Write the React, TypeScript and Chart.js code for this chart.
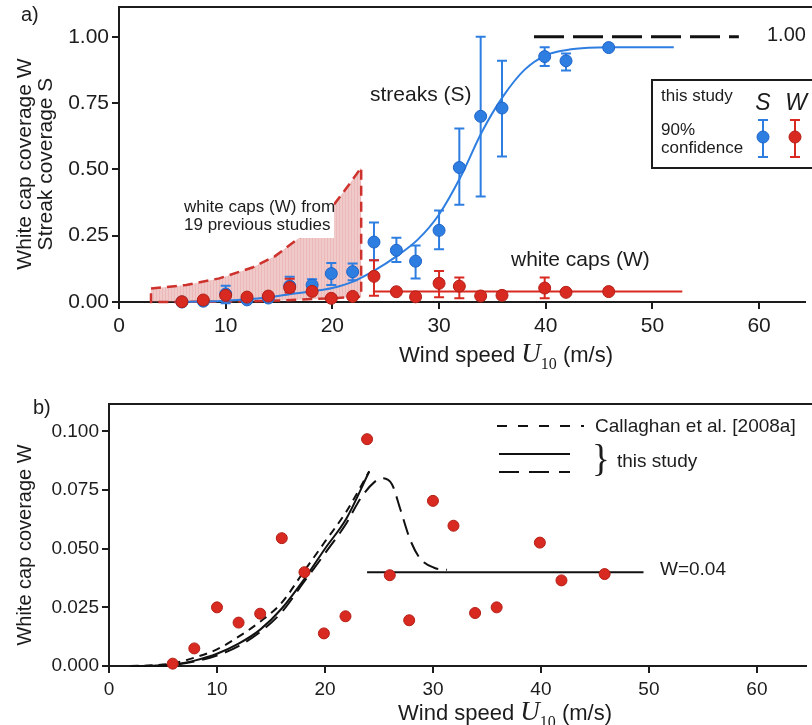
import React, { useEffect, useRef } from "react";
import { Chart, registerables } from "chart.js";
Chart.register(...registerables);

// ---------------- DATA ----------------
const xTickValues = [0, 10, 20, 30, 40, 50, 60];
const yTickValuesA = [0, 0.25, 0.5, 0.75, 1.0];
const yTickValuesB = [0, 0.025, 0.05, 0.075, 0.1];

// wind speed bins (m/s)
const windSpeeds = [5.9, 7.9, 10.0, 12.0, 14.0, 16.0, 18.1, 19.9, 21.9, 23.9, 26.0, 27.8, 30.0, 31.9, 33.9, 35.9, 39.9, 41.9, 45.9];
// white cap coverage W
const whitecapW = [0.001, 0.0075, 0.025, 0.0185, 0.0223, 0.0545, 0.04, 0.0139, 0.0212, 0.0967, 0.0387, 0.0195, 0.0704, 0.0598, 0.0226, 0.025, 0.0526, 0.0365, 0.0392];
const whitecapLow = [null, null, null, null, null, 0.035, null, null, null, 0.024, null, null, 0.018, 0.014, null, null, 0.014, null, null];
const whitecapHigh = [null, null, null, null, null, 0.088, null, null, null, 0.157, null, null, 0.117, 0.092, null, null, 0.092, null, null];
// streak coverage S
const streakS = [0.0, 0.003, 0.03, 0.008, 0.015, 0.06, 0.064, 0.107, 0.114, 0.226, 0.195, 0.154, 0.27, 0.507, 0.7, 0.731, 0.925, 0.909, 0.959];
const streakLow = [null, null, -0.005, null, null, 0.04, 0.033, 0.064, 0.082, 0.157, 0.151, 0.089, 0.199, 0.367, 0.398, 0.548, 0.89, 0.873, null];
const streakHigh = [null, null, 0.061, null, null, 0.095, 0.086, 0.147, 0.145, 0.3, 0.242, 0.213, 0.345, 0.654, 1.0, 0.909, 0.96, 0.937, null];

// streak fit curve
const streakFitU = [6, 8, 10, 12, 14, 16, 18, 20, 22, 24, 26, 28, 30, 32, 34, 36, 38, 40, 42, 44, 46, 52];
const streakFitS = [0.0, 0.002, 0.005, 0.01, 0.018, 0.029, 0.04, 0.053, 0.078, 0.12, 0.172, 0.235, 0.33, 0.47, 0.64, 0.775, 0.875, 0.93, 0.95, 0.958, 0.96, 0.96];
// white cap constant fit in panel a
const whitecapFitU = [23.8, 52.8];
const whitecapFitW = [0.04, 0.04];
// S = 1.00 reference line
const limitU = [38.9, 58.1];
const limitS = [1.0, 1.0];

// range of 19 previous studies
const bandUpperU = [3.0, 6.3, 9.4, 12.5, 14.6, 16.8, 18.6, 20.2, 21.7, 22.7];
const bandUpperW = [0.051, 0.064, 0.089, 0.13, 0.172, 0.239, 0.3, 0.37, 0.45, 0.507];
const bandLowerU = [3.0, 10.0, 14.0, 16.2, 19.9, 22.7];
const bandLowerW = [0.0, 0.001, 0.004, 0.0075, 0.014, 0.02];

// panel b curves
const callaghanU = [2, 4, 6, 8, 10, 12, 14, 16, 18, 20, 22, 24.1];
const callaghanW = [0, 0.0003, 0.0012, 0.0037, 0.0071, 0.0125, 0.0189, 0.027, 0.04, 0.053, 0.066, 0.083];
const studySolidU = [2, 4, 6, 8, 10, 12, 14, 16, 18, 20, 22, 24.1];
const studySolidW = [0, 0.0001, 0.0006, 0.0024, 0.0052, 0.0095, 0.0155, 0.0245, 0.0365, 0.05, 0.063, 0.0829];
const studyDashU = [2, 4, 6, 8, 10, 12, 14, 16, 18, 20, 22, 23.3, 24.6, 25.3, 26.2, 27.0, 27.9, 28.8, 30.1, 31.3];
const studyDashW = [0, 0.0001, 0.0005, 0.002, 0.0045, 0.0085, 0.0145, 0.023, 0.0355, 0.048, 0.061, 0.0715, 0.0785, 0.08, 0.0775, 0.0665, 0.0537, 0.0459, 0.0419, 0.041];
const constU = [23.9, 49.5];
const constW = [0.04, 0.04];

// ---------------- STYLE ----------------
const SANS = "Arial, 'Liberation Sans', Helvetica, sans-serif";
const SERIF = "'Liberation Serif', 'DejaVu Serif', 'Times New Roman', serif";
const BLUE = "rgb(46,126,226)";
const BLUE_DARK = "rgb(30,100,200)";
const RED = "rgb(216,42,32)";
const RED_DARK = "rgb(180,30,22)";
const INK = "#1c1c1c";

function pts(xs: number[], ys: number[]) {
  return xs.map((x, i) => ({ x, y: ys[i] }));
}

function drawWindTitle(ctx: CanvasRenderingContext2D, cx: number, cy: number, size: number) {
  const parts: [string, string, number][] = [
    ["Wind speed ", `${size}px ${SANS}`, 0],
    ["U", `italic ${Math.round(size * 1.22)}px ${SERIF}`, 0],
    ["10", `${Math.round(size * 0.72)}px ${SERIF}`, size * 0.32],
    [" (m/s)", `${size}px ${SANS}`, 0],
  ];
  ctx.save();
  ctx.fillStyle = INK;
  ctx.textAlign = "left";
  ctx.textBaseline = "alphabetic";
  let w = 0;
  for (const p of parts) {
    ctx.font = p[1];
    w += ctx.measureText(p[0]).width;
  }
  let x = cx - w / 2;
  const base = cy + size * 0.36;
  for (const p of parts) {
    ctx.font = p[1];
    ctx.fillText(p[0], x, base + p[2]);
    x += ctx.measureText(p[0]).width;
  }
  ctx.restore();
}

function drawRotated(ctx: CanvasRenderingContext2D, t: string, baseX: number, cy: number, size: number) {
  ctx.save();
  ctx.translate(baseX, cy);
  ctx.rotate(-Math.PI / 2);
  ctx.font = `${size}px ${SANS}`;
  ctx.fillStyle = INK;
  ctx.textAlign = "center";
  ctx.textBaseline = "alphabetic";
  ctx.fillText(t, 0, 0);
  ctx.restore();
}

function text(ctx: CanvasRenderingContext2D, t: string, x: number, y: number, font: string, align: CanvasTextAlign = "left") {
  ctx.save();
  ctx.font = font;
  ctx.fillStyle = INK;
  ctx.textAlign = align;
  ctx.textBaseline = "middle";
  ctx.fillText(t, x, y);
  ctx.restore();
}

function errorBar(ctx: CanvasRenderingContext2D, x: number, y1: number, y2: number, color: string) {
  ctx.save();
  ctx.strokeStyle = color;
  ctx.lineWidth = 2;
  ctx.beginPath();
  ctx.moveTo(x, y1);
  ctx.lineTo(x, y2);
  ctx.moveTo(x - 5, y1);
  ctx.lineTo(x + 5, y1);
  ctx.moveTo(x - 5, y2);
  ctx.lineTo(x + 5, y2);
  ctx.stroke();
  ctx.restore();
}

function makeHatch(ctx: CanvasRenderingContext2D) {
  const c = document.createElement("canvas");
  c.width = 3;
  c.height = 4;
  const g = c.getContext("2d")!;
  g.fillStyle = "rgba(214,105,105,0.36)";
  g.fillRect(0, 0, 3, 4);
  g.fillStyle = "rgba(205,90,90,0.14)";
  g.fillRect(0, 0, 1, 4);
  return ctx.createPattern(c, "repeat");
}

function axisOpts(
  min: number,
  max: number,
  ticks: number[],
  fmt: (v: number) => string,
  fontSize: number,
  pad: number,
  fit: (s: any) => void
) {
  return {
    type: "linear",
    min,
    max,
    afterBuildTicks: (s: any) => {
      s.ticks = ticks.map((v) => ({ value: v }));
    },
    afterFit: (s: any) => {
      fit(s);
      s.paddingTop = 0;
      s.paddingBottom = 0;
      s.paddingLeft = 0;
      s.paddingRight = 0;
    },
    ticks: {
      font: { family: SANS, size: fontSize },
      color: INK,
      padding: pad,
      autoSkip: false,
      maxRotation: 0,
      callback: (v: any) => fmt(Number(v)),
    },
    grid: { drawOnChartArea: false, drawTicks: true, tickLength: 7, color: INK, lineWidth: 2 },
    border: { display: true, color: INK, width: 2 },
  };
}

// ---------------- PANEL A ----------------
function configA(ctx: CanvasRenderingContext2D): any {
  const bandPoly = [
    ...pts(bandUpperU, bandUpperW),
    ...pts(bandLowerU, bandLowerW).reverse(),
    { x: bandUpperU[0], y: bandUpperW[0] },
  ];

  const bandPlugin = {
    id: "bandExtras",
    afterDatasetDraw(chart: any, args: any) {
      if (args.index !== 0) return;
      const c = chart.ctx;
      const xs = chart.scales.x;
      const ys = chart.scales.y;
      // white label box
      c.save();
      c.fillStyle = "#ffffff";
      c.fillRect(170, 193, 164, 45);
      c.restore();
      text(c, "white caps (W) from", 184, 207, `17px ${SANS}`);
      text(c, "19 previous studies", 184, 225, `17px ${SANS}`);
      // error bars
      windSpeeds.forEach((u, i) => {
        const x = xs.getPixelForValue(u);
        if (streakLow[i] != null && streakHigh[i] != null) {
          errorBar(c, x, ys.getPixelForValue(streakHigh[i] as number), ys.getPixelForValue(streakLow[i] as number), BLUE);
        }
      });
      windSpeeds.forEach((u, i) => {
        const x = xs.getPixelForValue(u);
        if (whitecapLow[i] != null && whitecapHigh[i] != null) {
          errorBar(c, x, ys.getPixelForValue(whitecapHigh[i] as number), ys.getPixelForValue(whitecapLow[i] as number), RED);
        }
      });
    },
  };

  const annot = {
    id: "annotA",
    afterDraw(chart: any) {
      const c = chart.ctx;
      const a = chart.chartArea;
      c.save();
      c.strokeStyle = INK;
      c.lineWidth = 2;
      c.beginPath();
      c.moveTo(a.left - 1, a.top);
      c.lineTo(812, a.top);
      c.stroke();
      c.restore();

      text(c, "a)", 21, 15, `20px ${SANS}`);
      text(c, "streaks (S)", 370, 95, `21px ${SANS}`);
      text(c, "white caps (W)", 511, 260, `21px ${SANS}`);
      text(c, "1.00", 767, 35, `20px ${SANS}`);

      // legend
      c.save();
      c.strokeStyle = INK;
      c.lineWidth = 2;
      c.strokeRect(652, 80, 175, 88);
      c.restore();
      text(c, "this study", 661, 96, `17px ${SANS}`);
      text(c, "90%", 661, 130, `17px ${SANS}`);
      text(c, "confidence", 661, 148, `17px ${SANS}`);
      text(c, "S", 763, 104, `italic 23px ${SANS}`, "center");
      text(c, "W", 796, 104, `italic 23px ${SANS}`, "center");
      errorBar(c, 763, 120, 157, BLUE);
      errorBar(c, 795, 120, 157, RED);
      c.save();
      c.beginPath();
      c.arc(763, 137, 6, 0, Math.PI * 2);
      c.fillStyle = BLUE;
      c.fill();
      c.strokeStyle = BLUE_DARK;
      c.lineWidth = 1;
      c.stroke();
      c.beginPath();
      c.arc(795, 137, 6, 0, Math.PI * 2);
      c.fillStyle = RED;
      c.fill();
      c.strokeStyle = RED_DARK;
      c.stroke();
      c.restore();

      drawWindTitle(c, 506, 354, 22);
      drawRotated(c, "White cap coverage W", 31, 164, 21);
      drawRotated(c, "Streak coverage S", 52, 164, 21);
    },
  };

  return {
    type: "scatter",
    data: {
      datasets: [
        {
          label: "previous studies",
          data: bandPoly,
          showLine: true,
          fill: "shape",
          backgroundColor: makeHatch(ctx),
          borderColor: "rgb(205,50,45)",
          borderWidth: 2.5,
          borderDash: [10, 6],
          pointRadius: 0,
          tension: 0,
          order: 10,
          clip: false,
        },
        {
          label: "S fit",
          data: pts(streakFitU, streakFitS),
          showLine: true,
          borderColor: BLUE,
          borderWidth: 2,
          pointRadius: 0,
          cubicInterpolationMode: "monotone",
          order: 5,
          clip: false,
        },
        {
          label: "W fit",
          data: pts(whitecapFitU, whitecapFitW),
          showLine: true,
          borderColor: RED,
          borderWidth: 2,
          pointRadius: 0,
          order: 5,
          clip: false,
        },
        {
          label: "limit",
          data: pts(limitU, limitS),
          showLine: true,
          borderColor: "#111",
          borderWidth: 3,
          borderDash: [30, 9],
          pointRadius: 0,
          order: 5,
          clip: false,
        },
        {
          label: "S",
          data: pts(windSpeeds, streakS),
          showLine: false,
          pointRadius: 6,
          backgroundColor: BLUE,
          borderColor: BLUE_DARK,
          borderWidth: 1,
          order: 1,
          clip: false,
        },
        {
          label: "W",
          data: pts(windSpeeds, whitecapW),
          showLine: false,
          pointRadius: 6,
          backgroundColor: RED,
          borderColor: RED_DARK,
          borderWidth: 1,
          order: 0,
          clip: false,
        },
      ],
    },
    options: {
      animation: false,
      responsive: false,
      events: [],
      layout: { padding: { top: 5, right: 0, left: 0, bottom: 0 } },
      plugins: { legend: { display: false }, tooltip: { enabled: false } },
      scales: {
        x: axisOpts(0, 64.3, xTickValues, (v) => String(v), 21, 5, (s: any) => {
          s.height = 68;
        }),
        y: axisOpts(0, 1.112, yTickValuesA, (v) => v.toFixed(2), 21, 3, (s: any) => {
          s.width = 119;
        }),
      },
    },
    plugins: [bandPlugin, annot],
  };
}

// ---------------- PANEL B ----------------
function configB(): any {
  const annot = {
    id: "annotB",
    afterDraw(chart: any) {
      const c = chart.ctx;
      const a = chart.chartArea;
      c.save();
      c.strokeStyle = INK;
      c.lineWidth = 2;
      c.beginPath();
      c.moveTo(a.left - 1, a.top);
      c.lineTo(812, a.top);
      c.stroke();

      // legend lines
      c.strokeStyle = "#111";
      c.lineWidth = 2;
      c.setLineDash([10, 11]);
      c.beginPath();
      c.moveTo(497, 56);
      c.lineTo(584, 56);
      c.stroke();
      c.setLineDash([]);
      c.beginPath();
      c.moveTo(499, 84);
      c.lineTo(570, 84);
      c.stroke();
      c.setLineDash([20, 10]);
      c.beginPath();
      c.moveTo(499, 102);
      c.lineTo(570, 102);
      c.stroke();
      c.setLineDash([]);
      c.restore();

      text(c, "b)", 33, 38, `20px ${SANS}`);
      text(c, "Callaghan et al. [2008a]", 595, 57, `19px ${SANS}`);
      text(c, "}", 601, 91, `37px ${SERIF}`, "center");
      text(c, "this study", 617, 92, `19px ${SANS}`);
      text(c, "W=0.04", 660, 200, `19px ${SANS}`);

      drawWindTitle(c, 505, 342, 22);
      drawRotated(c, "White cap coverage W", 31, 175, 20);
    },
  };

  return {
    type: "scatter",
    data: {
      datasets: [
        {
          label: "Callaghan et al. [2008a]",
          data: pts(callaghanU, callaghanW),
          showLine: true,
          borderColor: "#111",
          borderWidth: 2,
          borderDash: [8, 6],
          pointRadius: 0,
          cubicInterpolationMode: "monotone",
          order: 5,
          clip: false,
        },
        {
          label: "this study (solid)",
          data: pts(studySolidU, studySolidW),
          showLine: true,
          borderColor: "#111",
          borderWidth: 2,
          pointRadius: 0,
          cubicInterpolationMode: "monotone",
          order: 5,
          clip: false,
        },
        {
          label: "this study (dashed)",
          data: pts(studyDashU, studyDashW),
          showLine: true,
          borderColor: "#111",
          borderWidth: 2,
          borderDash: [16, 8],
          pointRadius: 0,
          cubicInterpolationMode: "monotone",
          order: 5,
          clip: false,
        },
        {
          label: "W=0.04",
          data: pts(constU, constW),
          showLine: true,
          borderColor: "#111",
          borderWidth: 2,
          pointRadius: 0,
          order: 5,
          clip: false,
        },
        {
          label: "W",
          data: pts(windSpeeds, whitecapW),
          showLine: false,
          pointRadius: 5.5,
          backgroundColor: RED,
          borderColor: RED_DARK,
          borderWidth: 1,
          order: 0,
          clip: false,
        },
      ],
    },
    options: {
      animation: false,
      responsive: false,
      events: [],
      layout: { padding: { top: 34, right: 0, left: 0, bottom: 0 } },
      plugins: { legend: { display: false }, tooltip: { enabled: false } },
      scales: {
        x: axisOpts(0, 64.5, xTickValues, (v) => String(v), 19, 5, (s: any) => {
          s.height = 59;
        }),
        y: axisOpts(0, 0.1117, yTickValuesB, (v) => v.toFixed(3), 19, 3, (s: any) => {
          s.width = 109;
        }),
      },
    },
    plugins: [annot],
  };
}

export default function App() {
  const refA = useRef<HTMLCanvasElement>(null);
  const refB = useRef<HTMLCanvasElement>(null);
  useEffect(() => {
    const ca = refA.current!;
    const cb = refB.current!;
    const chartA = new Chart(ca, configA(ca.getContext("2d")!));
    const chartB = new Chart(cb, configB());
    return () => {
      chartA.destroy();
      chartB.destroy();
    };
  }, []);
  return (
    <div style={{ position: "absolute", left: 0, top: 0, width: 812, height: 725, background: "#ffffff", overflow: "hidden" }}>
      <canvas ref={refA} width={812} height={370} style={{ position: "absolute", left: 0, top: 0, width: 812, height: 370 }} />
      <canvas ref={refB} width={812} height={355} style={{ position: "absolute", left: 0, top: 370, width: 812, height: 355 }} />
    </div>
  );
}
